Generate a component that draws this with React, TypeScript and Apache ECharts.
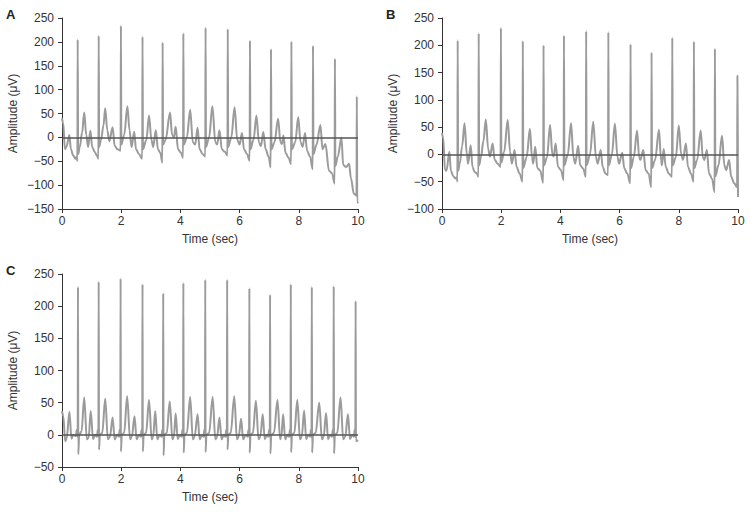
import React, { useEffect, useRef } from "react";
import * as echarts from "echarts";

// Time ticks and axis ranges
const timeTicks = [0, 2, 4, 6, 8, 10];
const panelLetters = ["A", "B", "C"];
const yRanges = [
  [-150, 250],
  [-100, 250],
  [-50, 250],
];

// Panel A trace: [time (sec), amplitude (µV)]
const traceA: [number, number][] = [
  [0, 40], [0.04, 30], [0.1, -25], [0.15, -20], [0.25, 5], [0.3, -25], [0.38, -38], [0.45, -45], [0.5, -40], [0.52, -50],
  [0.53, 205], [0.545, -35], [0.6, -20], [0.68, 10], [0.75, 52], [0.82, 5], [0.88, -20], [0.96, 14], [1.02, -20], [1.1, -30], [1.18, -38], [1.23, -45],
  [1.24, 213], [1.255, -20], [1.32, -5], [1.4, 25], [1.46, 61], [1.53, 15], [1.6, -8], [1.71, 21], [1.78, -18], [1.88, -25], [1.98, -28],
  [1.99, 234], [2.005, -15], [2.1, 5], [2.21, 65], [2.28, 15], [2.35, -20], [2.44, 12], [2.5, -25], [2.6, -35], [2.71, -45],
  [2.72, 211], [2.735, -25], [2.85, -5], [2.94, 46], [3.02, -5], [3.08, -20], [3.17, 15], [3.24, -25], [3.32, -32], [3.39, -53],
  [3.4, 199], [3.415, -15], [3.5, -5], [3.65, 52], [3.72, 5], [3.78, 0], [3.84, 22], [3.92, -25], [4.02, -32], [4.09, -43],
  [4.1, 218], [4.115, -15], [4.22, 0], [4.33, 58], [4.42, -10], [4.5, -15], [4.58, 20], [4.65, -25], [4.75, -35], [4.84, -40],
  [4.85, 230], [4.865, -20], [4.97, 0], [5.08, 65], [5.18, -10], [5.24, -15], [5.32, 15], [5.4, -25], [5.5, -30], [5.59, -38],
  [5.6, 227], [5.615, -20], [5.72, 0], [5.83, 63], [5.92, -5], [6.0, -15], [6.08, 9], [6.15, -25], [6.25, -35], [6.34, -49],
  [6.35, 203], [6.365, -25], [6.47, -5], [6.57, 46], [6.65, -10], [6.72, -18], [6.8, 11], [6.88, -25], [6.98, -40], [7.05, -63],
  [7.06, 185], [7.075, -25], [7.18, -10], [7.3, 39], [7.38, -10], [7.43, -14], [7.48, 4], [7.55, -32], [7.65, -42], [7.74, -56],
  [7.75, 201], [7.765, -25], [7.88, -10], [7.98, 42], [8.06, -10], [8.13, -20], [8.21, 9], [8.28, -28], [8.38, -40], [8.47, -67],
  [8.48, 192], [8.495, -35], [8.6, -15], [8.73, 26], [8.8, -25], [8.9, -14], [9.02, -70], [9.12, -75], [9.21, -97],
  [9.22, 165], [9.235, -60], [9.32, -40], [9.44, 0], [9.5, -58], [9.6, -62], [9.7, -55], [9.76, -85], [9.86, -118], [9.95, -122],
  [9.96, 86], [9.975, -137], [10, -135],
];

// Panel B trace
const traceB: [number, number][] = [
  [0, 39], [0.04, 30], [0.1, -28], [0.15, -30], [0.25, 5], [0.3, -30], [0.38, -40], [0.45, -44], [0.5, -42], [0.52, -50],
  [0.53, 209], [0.545, -30], [0.6, -17], [0.68, 15], [0.76, 57], [0.84, 0], [0.88, -17], [0.97, 17], [1.03, -23], [1.1, -32], [1.18, -35], [1.23, -41],
  [1.24, 222], [1.255, -20], [1.32, -4], [1.4, 25], [1.48, 64], [1.56, 10], [1.62, -4], [1.71, 20], [1.78, -10], [1.88, -17], [1.98, -23],
  [1.99, 232], [2.005, -15], [2.1, 5], [2.22, 63], [2.3, 5], [2.36, -17], [2.45, 8], [2.52, -23], [2.62, -35], [2.72, -50],
  [2.73, 208], [2.745, -25], [2.86, -5], [2.97, 47], [3.04, -5], [3.08, -17], [3.15, 14], [3.22, -25], [3.32, -30], [3.42, -52],
  [3.43, 200], [3.445, -20], [3.55, -5], [3.65, 54], [3.73, 0], [3.77, -4], [3.84, 20], [3.92, -23], [4.02, -29], [4.11, -47],
  [4.12, 218], [4.135, -20], [4.25, 0], [4.36, 57], [4.44, -5], [4.5, -17], [4.6, 16], [4.67, -20], [4.77, -26], [4.86, -41],
  [4.87, 226], [4.885, -20], [5.0, 0], [5.11, 60], [5.2, -5], [5.26, -17], [5.36, 8], [5.43, -23], [5.52, -35], [5.61, -38],
  [5.62, 224], [5.635, -20], [5.74, 0], [5.84, 56], [5.93, -5], [5.98, -17], [6.09, 3], [6.16, -26], [6.26, -35], [6.36, -53],
  [6.37, 202], [6.385, -25], [6.48, -5], [6.59, 44], [6.66, -5], [6.7, -10], [6.8, 8], [6.88, -29], [6.98, -35], [7.07, -60],
  [7.08, 187], [7.095, -25], [7.2, -10], [7.33, 45], [7.4, -10], [7.43, -20], [7.49, 10], [7.56, -23], [7.66, -35], [7.77, -41],
  [7.78, 214], [7.795, -20], [7.9, -5], [8.0, 53], [8.08, 0], [8.14, -10], [8.24, 20], [8.31, -23], [8.41, -35], [8.5, -50],
  [8.51, 207], [8.525, -25], [8.62, -10], [8.74, 44], [8.81, -5], [8.86, -10], [8.95, 8], [9.02, -35], [9.12, -44], [9.21, -69],
  [9.22, 194], [9.235, -40], [9.34, -20], [9.46, 34], [9.54, -20], [9.6, -29], [9.7, -10], [9.77, -41], [9.87, -53], [9.97, -60],
  [9.98, 144], [10, -78],
];

// Panel C trace
const traceC: [number, number][] = [
  [0, 37], [0.04, 30], [0.11, -10], [0.16, -5], [0.25, 36], [0.32, -6], [0.38, 0], [0.47, -2], [0.5, 8], [0.53, -3],
  [0.54, 230], [0.55, -30], [0.58, 0], [0.66, 5], [0.75, 58], [0.84, -7], [0.9, -5], [0.97, 37], [1.05, -7], [1.12, 0], [1.18, -3], [1.21, 8], [1.23, -3],
  [1.24, 238], [1.25, -23], [1.28, 0], [1.36, 3], [1.46, 56], [1.55, -7], [1.62, -3], [1.71, 27], [1.78, -7], [1.86, 0], [1.92, -3], [1.95, 8], [1.97, -3],
  [1.98, 243], [1.99, -26], [2.02, 0], [2.1, 3], [2.2, 60], [2.3, -7], [2.36, -3], [2.45, 29], [2.52, -7], [2.6, 0], [2.66, -3], [2.69, 8], [2.71, -3],
  [2.72, 234], [2.73, -26], [2.76, 0], [2.84, 3], [2.94, 54], [3.03, -7], [3.08, -3], [3.15, 37], [3.22, -7], [3.3, 0], [3.36, -3], [3.39, 8], [3.41, -3],
  [3.42, 220], [3.43, -32], [3.46, 0], [3.54, 3], [3.64, 52], [3.73, -7], [3.78, -3], [3.84, 33], [3.91, -7], [3.98, 0], [4.04, -3], [4.07, 8], [4.09, -3],
  [4.1, 236], [4.11, -28], [4.14, 0], [4.22, 3], [4.33, 59], [4.42, -7], [4.48, -3], [4.58, 32], [4.65, -7], [4.73, 0], [4.78, -3], [4.81, 8], [4.83, -3],
  [4.84, 241], [4.85, -27], [4.88, 0], [4.97, 3], [5.09, 59], [5.18, -7], [5.24, -3], [5.32, 27], [5.39, -7], [5.47, 0], [5.52, -3], [5.55, 8], [5.57, -3],
  [5.58, 241], [5.59, -23], [5.62, 0], [5.7, 3], [5.82, 60], [5.91, -7], [5.97, -3], [6.05, 25], [6.12, -7], [6.2, 0], [6.27, -3], [6.3, 8], [6.32, -3],
  [6.33, 228], [6.34, -28], [6.37, 0], [6.45, 3], [6.55, 53], [6.64, -7], [6.7, -3], [6.78, 32], [6.85, -7], [6.92, 0], [6.97, -3], [7.0, 8], [7.02, -3],
  [7.03, 218], [7.04, -29], [7.07, 0], [7.16, 3], [7.28, 54], [7.37, -7], [7.41, -3], [7.47, 32], [7.54, -7], [7.62, 0], [7.67, -3], [7.7, 8], [7.72, -3],
  [7.73, 234], [7.74, -27], [7.77, 0], [7.85, 3], [7.95, 54], [8.04, -7], [8.1, -3], [8.18, 38], [8.25, -7], [8.32, 0], [8.38, -3], [8.41, 8], [8.43, -3],
  [8.44, 230], [8.45, -28], [8.48, 0], [8.57, 3], [8.69, 50], [8.78, -7], [8.84, -3], [8.92, 34], [8.99, -7], [9.06, 0], [9.12, -3], [9.15, 8], [9.17, -3],
  [9.18, 231], [9.19, -29], [9.22, 0], [9.3, 3], [9.41, 58], [9.5, -7], [9.57, -3], [9.66, 32], [9.73, -7], [9.8, 0], [9.86, -3], [9.89, 8], [9.91, -3],
  [9.92, 208], [9.93, -10], [10, -8],
];

const traces = [traceA, traceB, traceC];

const FONT = "'Liberation Sans', Arial, sans-serif";
const TRACE_COLOR = "#9b9b9b";
const AXIS_COLOR = "#333";

export default function App() {
  const ref = useRef<HTMLDivElement>(null);

  useEffect(() => {
    if (!ref.current) return;
    const chart = echarts.init(ref.current, undefined, { renderer: "svg" });

    const grids = [
      { left: 62, top: 18, width: 296, height: 191 },
      { left: 442, top: 18, width: 296, height: 191 },
      { left: 62, top: 274, width: 296, height: 193 },
    ];

    const fmt = (v: number) => String(v).replace("-", "\u2212");

    const option: any = {
      animation: false,
      backgroundColor: "#fff",
      grid: grids.map((g) => ({ ...g, containLabel: false })),
      xAxis: grids.map((_, i) => ({
        type: "value",
        gridIndex: i,
        min: timeTicks[0],
        max: timeTicks[timeTicks.length - 1],
        interval: 2,
        name: "Time (sec)",
        nameLocation: "middle",
        nameGap: 24,
        nameTextStyle: { fontFamily: FONT, fontSize: 12, color: "#333" },
        axisLine: { show: true, onZero: false, lineStyle: { color: AXIS_COLOR, width: 1 } },
        axisTick: { show: true, inside: false, length: 4, lineStyle: { color: AXIS_COLOR } },
        axisLabel: { margin: 6, fontFamily: FONT, fontSize: 12, color: "#333" },
        splitLine: { show: false },
      })),
      yAxis: grids.map((_, i) => ({
        type: "value",
        gridIndex: i,
        min: yRanges[i][0],
        max: yRanges[i][1],
        interval: 50,
        name: "Amplitude (\u03bcV)",
        nameLocation: "middle",
        nameGap: 43,
        nameRotate: 90,
        nameTextStyle: { fontFamily: FONT, fontSize: 12, color: "#333" },
        axisLine: { show: true, onZero: false, lineStyle: { color: AXIS_COLOR, width: 1 } },
        axisTick: { show: true, inside: false, length: 4, lineStyle: { color: AXIS_COLOR } },
        axisLabel: { margin: 8, fontFamily: FONT, fontSize: 12, color: "#333", formatter: fmt },
        splitLine: { show: false },
      })),
      series: traces.map((tr, i) => ({
        type: "line",
        xAxisIndex: i,
        yAxisIndex: i,
        data: tr,
        showSymbol: false,
        symbol: "none",
        silent: true,
        smooth: 0.35,
        smoothMonotone: "x",
        lineStyle: { color: TRACE_COLOR, width: 2, join: "round" },
        markLine: {
          silent: true,
          symbol: ["none", "none"],
          label: { show: false },
          lineStyle: { color: "#555", width: 1.5, type: "solid" },
          data: [{ yAxis: 0 }],
        },
      })),
      graphic: panelLetters.map((letter, i) => ({
        type: "text",
        left: i === 1 ? 386 : 6,
        top: i === 2 ? 264 : 8,
        style: {
          text: letter,
          font: `bold 13px ${FONT}`,
          fill: "#222",
        },
      })),
    };

    chart.setOption(option);
    return () => chart.dispose();
  }, []);

  return (
    <div
      ref={ref}
      style={{ position: "absolute", left: 0, top: 0, width: 752, height: 512 }}
    />
  );
}
